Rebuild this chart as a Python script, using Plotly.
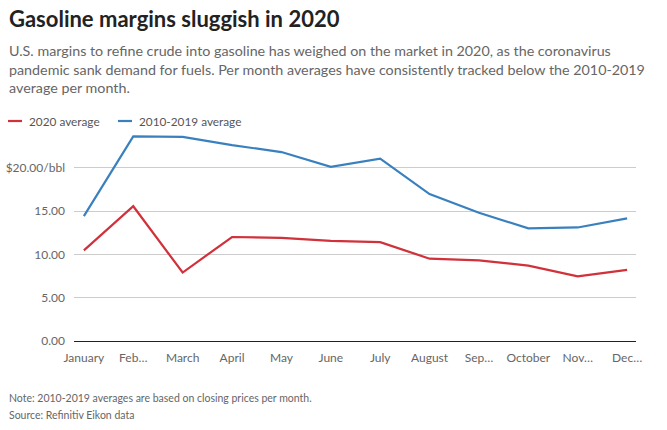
import plotly.graph_objects as go

months = ["January", "February", "March", "April", "May", "June", "July",
          "August", "September", "October", "November", "December"]
month_labels = ["January", "Feb…", "March", "April", "May", "June", "July",
                "August", "Sep…", "October", "Nov…", "Dec…"]
avg_2020 = [10.45, 15.55, 7.9, 12.0, 11.9, 11.55, 11.4, 9.5, 9.3, 8.7, 7.45, 8.2]
avg_2010_2019 = [14.4, 23.6, 23.55, 22.6, 21.8, 20.1, 21.05, 16.95, 14.8, 13.0, 13.1, 14.15]
series_names = ["2020 average", "2010-2019 average"]
series_colors = ["#d0313a", "#3a80bf"]
y_tickvals = [0, 5, 10, 15, 20]
y_ticktext = ["0.00", "5.00", "10.00", "15.00", "$20.00/bbl"]

title = "Gasoline margins sluggish in 2020"
subtitle = ("U.S. margins to refine crude into gasoline has weighed on the market in 2020, as the coronavirus<br>"
            "pandemic sank demand for fuels. Per month averages have consistently tracked below the 2010-2019<br>"
            "average per month.")
note = "Note: 2010-2019 averages are based on closing prices per month."
source = "Source: Refinitiv Eikon data"

W, H = 667, 430
L, R, T, B = 74, 31, 133, 89
pw, ph = W - L - R, H - T - B

def px(x):
    return (x - L) / pw

def py(y):
    return (H - B - y) / ph

FONT = "Lato"
fig = go.Figure()
for name, vals, col in zip(series_names, [avg_2020, avg_2010_2019], series_colors):
    fig.add_trace(go.Scatter(x=months, y=vals, mode="lines", name=name,
                             line=dict(color=col, width=2.2), showlegend=False))

anns = [
    dict(text="<b>" + title + "</b>", x=px(7), y=py(3), xanchor="left", yanchor="top",
         font=dict(size=22, color="#222222", family=FONT)),
    dict(text=subtitle, x=px(7), y=py(40), xanchor="left", yanchor="top", align="left",
         font=dict(size=14.3, color="#666666", family=FONT)),
    dict(text=note, x=px(7), y=py(398), xanchor="left", yanchor="middle",
         font=dict(size=10.5, color="#666666", family=FONT)),
    dict(text=source, x=px(7), y=py(415), xanchor="left", yanchor="middle",
         font=dict(size=10.5, color="#666666", family=FONT)),
]
shapes = []
leg_x = [8, 118]
for i, (name, col) in enumerate(zip(series_names, series_colors)):
    shapes.append(dict(type="line", xref="paper", yref="paper",
                       x0=px(leg_x[i]), x1=px(leg_x[i] + 14), y0=py(121), y1=py(121),
                       line=dict(color=col, width=2.2)))
    anns.append(dict(text=name, x=px(leg_x[i] + 19), y=py(121), xanchor="left", yanchor="middle",
                     font=dict(size=11.8, color="#555555", family=FONT)))
for a in anns:
    a.update(xref="paper", yref="paper", showarrow=False)

fig.update_layout(
    width=W, height=H, margin=dict(l=L, r=R, t=T, b=B, autoexpand=False),
    paper_bgcolor="white", plot_bgcolor="white",
    font=dict(family=FONT, color="#666666", size=12),
    annotations=anns, shapes=shapes,
    xaxis=dict(range=[-0.2, 11.18], tickvals=months, ticktext=month_labels,
               showgrid=False, showline=False, zeroline=False, ticks="",
               automargin=False,
               tickfont=dict(size=12, color="#666666"), ticklabelstandoff=8),
    yaxis=dict(range=[0, 24], tickvals=y_tickvals, ticktext=y_ticktext,
               showgrid=True, gridcolor="#cccccc", gridwidth=1,
               zeroline=True, zerolinecolor="#222222", zerolinewidth=1.3,
               automargin=False,
               showline=False, ticks="", tickfont=dict(size=12, color="#666666"),
               ticklabelstandoff=8),
)
fig.write_html("out.html")
